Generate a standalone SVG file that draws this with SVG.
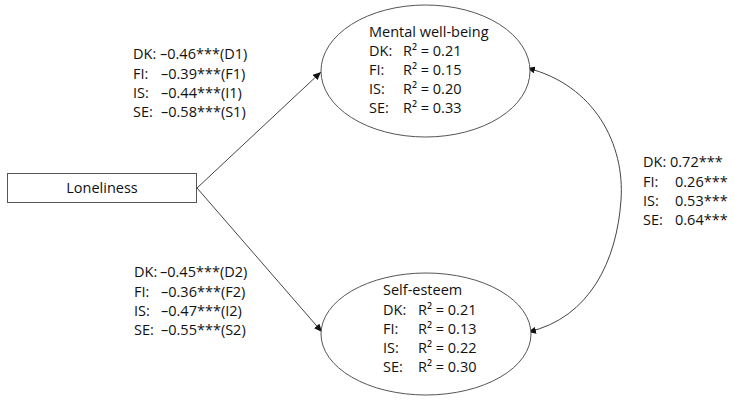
<svg xmlns="http://www.w3.org/2000/svg" width="735" height="401" viewBox="0 0 735 401">
<style>
text{font-family:"Open Sans","Liberation Sans",sans-serif;font-size:14.5px;fill:#111}
.shape{fill:#fff;stroke:#555;stroke-width:1}
.conn{fill:none;stroke:#444;stroke-width:1}
</style>
<defs>
<marker id="ah" markerWidth="9" markerHeight="7" refX="8" refY="3.5" orient="auto-start-reverse" markerUnits="userSpaceOnUse">
<path d="M0,0 L8,3.5 L0,7 z" fill="#111"/>
</marker>
</defs>
<rect width="735" height="401" fill="#fff"/>
<g id="connectors">
<line class="conn" x1="197" y1="188" x2="321" y2="72" marker-end="url(#ah)"/>
<line class="conn" x1="197" y1="188" x2="322" y2="332" marker-end="url(#ah)"/>
<path class="conn" d="M527,68 C595,85 625,145 621,200 C617,260 590,318 528,332" marker-start="url(#ah)" marker-end="url(#ah)"/>
</g>
<g id="loneliness">
<rect class="shape" x="7.5" y="173.5" width="189" height="29"/>
<text x="102" y="193" text-anchor="middle">Loneliness</text>
</g>
<g id="mental-well-being">
<ellipse class="shape" cx="425.5" cy="71" rx="104.5" ry="66"/>
<text x="369" y="37">Mental well-being</text>
<text x="369" y="56">DK:</text><text x="403" y="56">R² = 0.21</text>
<text x="369" y="75">FI:</text><text x="403" y="75">R² = 0.15</text>
<text x="369" y="94">IS:</text><text x="403" y="94">R² = 0.20</text>
<text x="369" y="113">SE:</text><text x="403" y="113">R² = 0.33</text>
</g>
<g id="self-esteem">
<ellipse class="shape" cx="426" cy="334" rx="105" ry="61"/>
<text x="383" y="295">Self-esteem</text>
<text x="383" y="315">DK:</text><text x="418" y="315">R² = 0.21</text>
<text x="383" y="334">FI:</text><text x="418" y="334">R² = 0.13</text>
<text x="383" y="353">IS:</text><text x="418" y="353">R² = 0.22</text>
<text x="383" y="372">SE:</text><text x="418" y="372">R² = 0.30</text>
</g>
<g id="label-top">
<text x="133" y="59">DK:</text><text x="160" y="59">–0.46***(D1)</text>
<text x="133" y="79">FI:</text><text x="161" y="79">–0.39***(F1)</text>
<text x="133" y="98">IS:</text><text x="161" y="98">–0.44***(I1)</text>
<text x="133" y="117">SE:</text><text x="161" y="117">–0.58***(S1)</text>
</g>
<g id="label-bottom">
<text x="134" y="277">DK:</text><text x="160" y="277">–0.45***(D2)</text>
<text x="134" y="297">FI:</text><text x="161" y="297">–0.36***(F2)</text>
<text x="134" y="316">IS:</text><text x="161" y="316">–0.47***(I2)</text>
<text x="134" y="335">SE:</text><text x="161" y="335">–0.55***(S2)</text>
</g>
<g id="label-right">
<text x="643" y="167">DK:</text><text x="670" y="167">0.72***</text>
<text x="643" y="187">FI:</text><text x="675" y="187">0.26***</text>
<text x="643" y="206">IS:</text><text x="675" y="206">0.53***</text>
<text x="643" y="225">SE:</text><text x="675" y="225">0.64***</text>
</g>
</svg>
